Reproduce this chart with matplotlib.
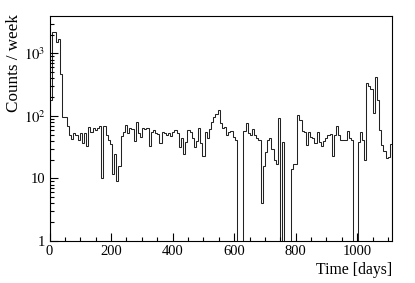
import numpy as np
import matplotlib
matplotlib.use('Agg')
import matplotlib.pyplot as plt
from matplotlib.ticker import FixedLocator, LogLocator, MultipleLocator, NullFormatter

# weekly counts (0 = empty week)
bin_width = 7  # days
counts = [
    180, 2200, 2200, 1500, 1700, 470, 98, 95, 69, 49,
    43, 53, 49, 41, 53, 37, 53, 33, 67, 56,
    64, 60, 64, 69, 10, 69, 50, 42, 35, 12,
    25, 9, 16, 48, 56, 73, 54, 64, 62, 40,
    81, 53, 46, 64, 62, 64, 33, 56, 60, 53,
    52, 37, 55, 53, 50, 53, 48, 56, 60, 53,
    32, 45, 25, 39, 60, 56, 45, 32, 40, 64,
    37, 23, 56, 44, 61, 81, 98, 106, 125, 77,
    64, 66, 50, 55, 58, 46, 42, 0, 0, 0,
    58, 77, 53, 50, 61, 50, 45, 41, 4, 16,
    27, 41, 45, 30, 20, 17, 94, 0, 39, 0,
    0, 0, 14, 17, 17, 103, 86, 58, 56, 34,
    56, 46, 45, 37, 56, 38, 33, 40, 45, 50,
    52, 23, 50, 69, 50, 42, 42, 42, 58, 44,
    42, 0, 0, 39, 56, 41, 20, 333, 300, 266,
    110, 425, 180, 60, 34, 28, 21, 22, 36,
]
x_ticks = [0, 200, 400, 600, 800, 1000]
y_ticks = [1, 10, 100, 1000]
y_tick_labels = ['1', '10', '$10^{2}$', '$10^{3}$']

plt.rcParams['font.family'] = ['Liberation Serif', 'DejaVu Serif']
plt.rcParams['mathtext.fontset'] = 'stix'

counts = np.array(counts, dtype=float)
edges = np.arange(len(counts) + 1) * bin_width
floor = 0.05
vals = np.where(counts > 0, counts, floor)

fig = plt.figure(figsize=(4.15, 2.83), dpi=100)
ax = fig.add_axes([0.1193, 0.1484, 0.8253, 0.7951])
ax.stairs(vals, edges, baseline=floor, color='#222222', lw=0.75)

ax.set_yscale('log')
ax.set_xlim(0, edges[-1])
ax.set_ylim(1, 3980)

ax.xaxis.set_major_locator(FixedLocator(x_ticks))
ax.xaxis.set_minor_locator(MultipleLocator(50))
ax.yaxis.set_major_locator(FixedLocator(y_ticks))
ax.set_yticklabels(y_tick_labels)
ax.yaxis.set_minor_locator(LogLocator(base=10, subs=np.arange(2, 10)))
ax.yaxis.set_minor_formatter(NullFormatter())

ax.tick_params(which='both', direction='in', top=False, right=False,
               width=0.8, labelsize=10.5)
ax.tick_params(which='major', length=5.5)
ax.tick_params(which='minor', length=3)
ax.tick_params(axis='x', pad=3)
ax.tick_params(axis='y', pad=3)
for s in ax.spines.values():
    s.set_linewidth(0.8)

ax.set_ylabel('Counts / week', fontsize=12.3, loc='top')
ax.yaxis.set_label_coords(-0.08, 1.01)
ax.set_xlabel('Time [days]', fontsize=11.3, loc='right')
ax.xaxis.set_label_coords(1.0, -0.095)

fig.savefig('out.png', dpi=100)
